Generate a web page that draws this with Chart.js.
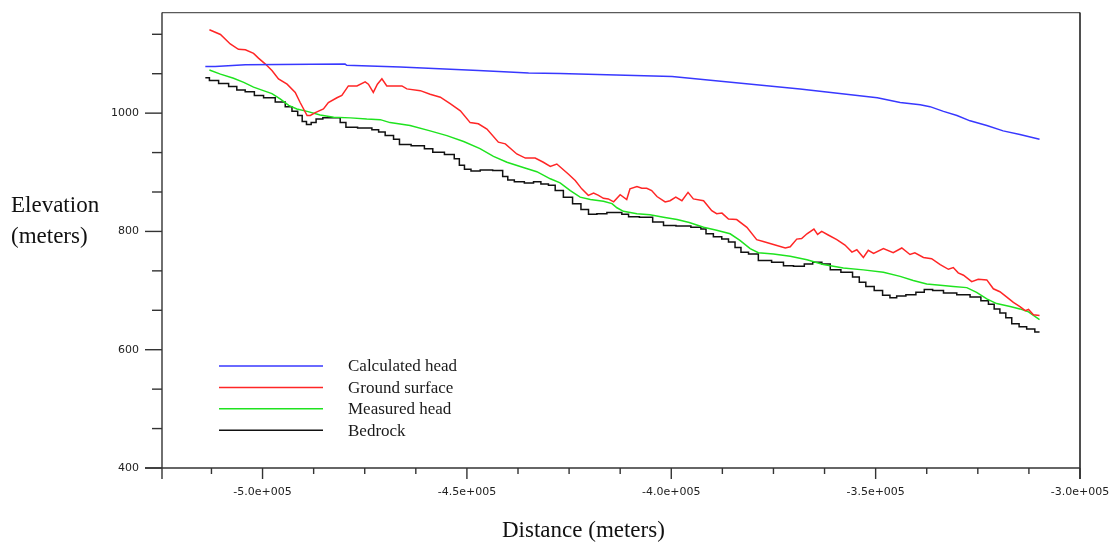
<!DOCTYPE html>
<html>
<head>
<meta charset="utf-8">
<title>Elevation profile</title>
<script src="https://cdn.jsdelivr.net/npm/chart.js@4.4.1/dist/chart.umd.min.js"></script>
<style>
  html, body { margin: 0; padding: 0; background: #fff; }
  #wrap { position: relative; width: 1117px; height: 545px; }
</style>
</head>
<body>
<div id="wrap"><canvas id="profileChart"></canvas></div>
<script>
// --- profile data (distance in m, elevation in m) ---
const distCalc = [-514000,-511600,-504200,-479800,-479400,-466300,-447200,-441000,-434900,-427200,-399800,-368500,-349600,-344000,-339100,-336700,-333400,-330100,-326900,-322800,-318800,-314700,-309900];
const calcHead = [1079,1079,1082,1083,1081,1078,1072,1070,1068,1067,1062,1041,1026,1018,1014,1011,1003,996,987,979,970,964,956];

const distGround = [-513000,-510300,-507900,-505900,-504200,-502200,-501000,-499300,-497700,-496100,
  -494000,-492000,-490800,-489100,-488300,-487100,-485100,-483900,-481800,-480600,
  -479000,-476900,-474900,-474100,-472900,-471900,-470800,-469600,-468000,-465900,
  -464700,-461400,-459000,-456500,-454100,-451600,-449200,-447200,-445100,-442300,
  -440600,-437800,-435700,-433300,-431300,-429600,-428000,-425200,-423500,-421900,
  -420300,-419000,-417800,-416600,-415400,-414100,-412500,-410900,-410100,-408400,
  -407200,-406000,-404800,-403500,-401500,-400300,-398900,-397400,-395900,-394600,
  -392100,-390100,-388900,-387600,-386000,-384000,-381500,-379100,-377500,-375000,
  -372100,-370900,-369300,-368100,-366800,-365100,-364200,-363200,-361600,-359500,
  -357500,-355800,-354600,-353000,-351800,-350500,-348100,-345700,-343600,-341600,
  -340400,-338300,-336300,-334200,-332200,-331000,-329800,-328500,-326500,-324900,
  -322800,-321200,-319600,-317900,-316300,-314700,-313400,-312600,-311400,-309900];
const groundSurface = [1141,1133,1117,1108,1107,1101,1093,1083,1072,1058,
  1049,1035,1018,996,996,1001,1007,1018,1026,1030,
  1046,1046,1053,1049,1035,1049,1058,1046,1046,1046,
  1041,1038,1032,1027,1016,1004,984,982,973,951,
  948,931,924,924,917,910,914,897,886,872,
  861,865,861,856,855,850,862,854,872,876,
  873,873,869,859,850,852,858,852,866,855,
  852,835,830,831,821,820,807,786,783,778,
  772,774,787,788,796,804,795,800,794,786,
  777,765,769,756,768,763,771,764,772,761,
  764,756,754,744,736,739,730,726,715,719,
  718,703,698,689,680,673,666,668,659,658];

const distMeasured = [-513000,-510300,-507100,-504600,-502200,-499800,-497700,-495700,-493600,-491600,
  -489100,-485900,-482600,-478500,-474500,-471200,-468800,-463900,-459000,-454900,
  -450800,-446800,-443500,-440200,-436200,-432900,-429600,-427200,-424700,-422300,
  -419800,-416600,-414500,-413300,-411700,-408400,-405200,-401900,-398600,-395600,
  -392100,-388900,-385600,-383200,-380700,-378700,-375000,-370900,-366800,-362800,
  -357900,-353000,-348100,-344000,-340800,-337500,-334200,-331000,-327700,-325300,
  -322800,-320400,-317100,-314700,-312600,-309900];
const measuredHead = [1073,1066,1059,1052,1044,1038,1033,1024,1013,1007,
  1003,997,993,992,990,989,984,979,970,962,
  952,940,927,917,908,901,889,882,869,858,
  854,851,847,840,834,830,828,824,820,815,
  807,802,796,785,771,764,762,758,752,744,
  738,735,731,724,717,711,709,707,705,697,
  686,678,673,669,664,651];

const distBedrock = [-514000,-512000,-509500,-507100,-505500,-503000,-501000,-498500,-495300,-493600,
  -492000,-490800,-489800,-488700,-487500,-486300,-484200,-481800,-480200,-479000,
  -474500,-472000,-471200,-468800,-467100,-465900,-461400,-459400,-457300,-453700,
  -452500,-451200,-450000,-448000,-445500,-441900,-440600,-439400,-437400,-434500,
  -432900,-430900,-429200,-427600,-425200,-423100,-421100,-419400,-417000,-414500,
  -412900,-411300,-409600,-406000,-403100,-400700,-397000,-393400,-392100,-390900,
  -388500,-386800,-385200,-383600,-382300,-379900,-377500,-373400,-371700,-368500,
  -366400,-364400,-361900,-360300,-356700,-354600,-353400,-351400,-349300,-347300,
  -345700,-344000,-341200,-339100,-337100,-335000,-331800,-328500,-325300,-323200,
  -321600,-320400,-318800,-317500,-315900,-313900,-312200,-309900];
const bedrock = [1060,1055,1050,1045,1039,1036,1030,1026,1019,1011,
  1003,996,986,981,984,990,992,992,984,976,
  975,972,968,962,956,947,945,940,934,930,
  923,912,905,902,904,903,893,887,884,882,
  884,880,878,869,858,847,837,829,830,832,
  832,829,825,824,816,810,809,807,804,796,
  791,787,782,773,765,762,751,748,742,741,
  745,748,745,735,731,723,714,707,700,692,
  688,691,693,697,702,700,696,693,689,683,
  677,669,662,654,644,639,635,630];

const seriesNames = ['Calculated head', 'Ground surface', 'Measured head', 'Bedrock'];
const seriesColors = ['#3838ff', '#ff2626', '#1fe31f', '#111111'];
// bedrock comes from a gridded model, so it is drawn as steps
const seriesStepped = [false, false, false, 'middle'];

// axis ticks: labelled majors, unlabelled minors in between
const yMajorTicks = [400, 600, 800, 1000];
const yMinorSplit = 3;
const xMajorTicks = [-500000, -450000, -400000, -350000, -300000];
const xMinorSplit = 4;
const xRange = [-524600, -300000];
const yRange = [400, 1170];

function pairs(xs, ys) {
  return xs.map((x, i) => ({ x: x, y: ys[i] }));
}

function tickList(majors, split, min, max) {
  const step = (majors[1] - majors[0]) / split;
  const out = [];
  for (let i = -split * 3; ; i++) {
    const v = majors[0] + i * step;
    if (v > max + 1e-6) break;
    if (v < min - 1e-6) continue;
    out.push({ value: v, major: i % split === 0 });
  }
  return out;
}

function line(ctx, x1, y1, x2, y2) {
  ctx.beginPath();
  ctx.moveTo(x1, y1);
  ctx.lineTo(x2, y2);
  ctx.stroke();
}

// frame, tick marks, axis titles and the legend box
const profileDecor = {
  id: 'profileDecor',
  afterDraw(chart) {
    const { ctx, chartArea: a, scales } = chart;
    ctx.save();
    ctx.lineCap = 'butt';

    ctx.strokeStyle = '#5a5a5a';
    ctx.lineWidth = 1.3;
    line(ctx, a.left, a.top, a.right, a.top);
    ctx.strokeStyle = '#222';
    ctx.lineWidth = 1.6;
    line(ctx, a.right, a.top, a.right, a.bottom + 11);

    ctx.strokeStyle = '#333';
    ctx.lineWidth = 1.4;
    line(ctx, a.left, a.top, a.left, a.bottom + 11);
    line(ctx, a.left - 17, a.bottom, a.right, a.bottom);

    scales.y.ticks.forEach(t => {
      const py = scales.y.getPixelForValue(t.value);
      line(ctx, a.left - (t.major ? 17 : 10), py, a.left, py);
    });
    scales.x.ticks.forEach(t => {
      const px = scales.x.getPixelForValue(t.value);
      line(ctx, px, a.bottom, px, a.bottom + (t.major ? 11 : 6));
    });

    ctx.fillStyle = '#111';
    ctx.textAlign = 'left';
    ctx.textBaseline = 'alphabetic';
    ctx.font = '23px "Liberation Serif", "Times New Roman", serif';
    ctx.fillText('Elevation', 11, 212);
    ctx.fillText('(meters)', 11, 243);
    ctx.fillText('Distance (meters)', 502, 537);

    ctx.font = '17px "Liberation Serif", "Times New Roman", serif';
    ctx.textBaseline = 'middle';
    chart.data.datasets.forEach((ds, i) => {
      const ly = 366 + i * 21.4;
      ctx.strokeStyle = ds.borderColor;
      ctx.lineWidth = 1.5;
      line(ctx, 219, ly, 323, ly);
      ctx.fillStyle = '#1a1a1a';
      ctx.fillText(ds.label, 348, ly + 1);
    });
    ctx.restore();
  }
};

const seriesData = [
  pairs(distCalc, calcHead),
  pairs(distGround, groundSurface),
  pairs(distMeasured, measuredHead),
  pairs(distBedrock, bedrock)
];

const tickFont = { family: '"DejaVu Sans", sans-serif', size: 11 };
const hiddenGrid = { display: true, drawOnChartArea: false, color: 'rgba(0,0,0,0)', drawTicks: true };

new Chart(document.getElementById('profileChart'), {
  type: 'line',
  data: {
    datasets: seriesNames.map((name, i) => ({
      label: name,
      data: seriesData[i],
      borderColor: seriesColors[i],
      backgroundColor: seriesColors[i],
      borderWidth: 1.5,
      pointRadius: 0,
      tension: 0,
      stepped: seriesStepped[i],
      fill: false
    }))
  },
  options: {
    responsive: true,
    maintainAspectRatio: false,
    animation: false,
    layout: { padding: { top: 12, right: 37, left: 0, bottom: 0 } },
    plugins: {
      legend: { display: false },
      tooltip: { enabled: false }
    },
    scales: {
      x: {
        type: 'linear',
        min: xRange[0],
        max: xRange[1],
        afterBuildTicks: s => { s.ticks = tickList(xMajorTicks, xMinorSplit, xRange[0], xRange[1]); },
        afterFit: s => { s.height = 77; },
        grid: Object.assign({ tickLength: 11 }, hiddenGrid),
        border: { display: false },
        ticks: {
          autoSkip: false,
          maxRotation: 0,
          padding: 7,
          color: '#222',
          font: tickFont,
          callback: (v, i, ticks) => ticks[i].major ? (v / 1e5).toFixed(1) + 'e+005' : ''
        }
      },
      y: {
        type: 'linear',
        min: yRange[0],
        max: yRange[1],
        afterBuildTicks: s => { s.ticks = tickList(yMajorTicks, yMinorSplit, yRange[0], yRange[1]); },
        afterFit: s => { s.width = 162; },
        grid: Object.assign({ tickLength: 17 }, hiddenGrid),
        border: { display: false },
        ticks: {
          autoSkip: false,
          padding: 6,
          color: '#222',
          font: tickFont,
          callback: (v, i, ticks) => ticks[i].major ? String(Math.round(v)) : ''
        }
      }
    }
  },
  plugins: [profileDecor]
});
</script>
</body>
</html>
